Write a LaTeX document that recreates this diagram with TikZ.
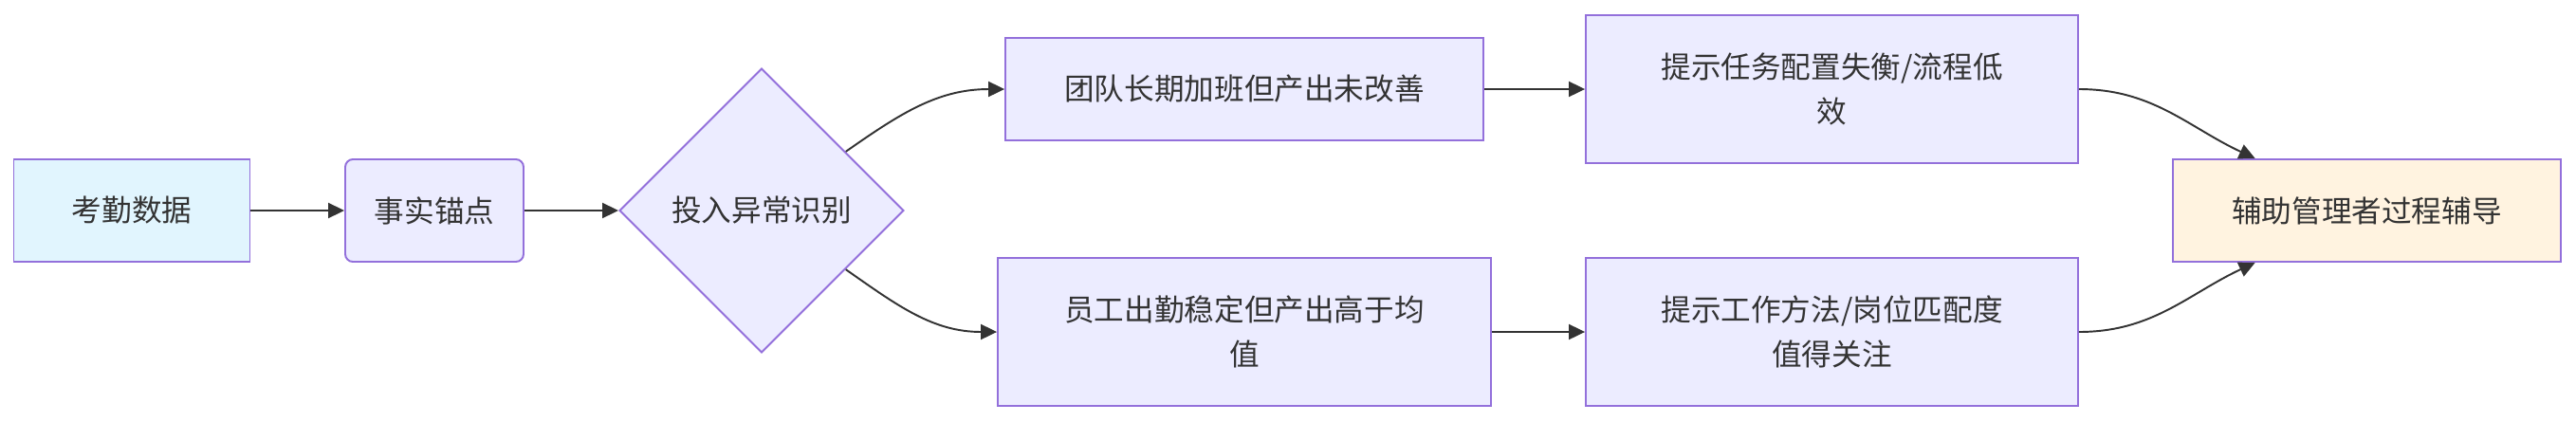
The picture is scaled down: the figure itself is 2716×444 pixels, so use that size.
\documentclass[tikz,border=0pt]{standalone}
\usepackage{fontspec}
\setmainfont{Noto Sans CJK SC}
\usetikzlibrary{shapes.geometric,arrows.meta}
\definecolor{boxfill}{HTML}{ECECFF}
\definecolor{boxline}{HTML}{9370DB}
\definecolor{srcfill}{HTML}{E1F5FE}
\definecolor{endfill}{HTML}{FFF3E0}
\definecolor{txt}{HTML}{333333}
\begin{document}
\begin{tikzpicture}[x=0.02cm, y=-0.02cm,
            box/.style={draw=boxline, fill=boxfill, line width=1.1pt, text=txt, inner sep=0pt,
                minimum height=2.16cm, align=center, font=\fontsize{18pt}{27pt}\selectfont},
            link/.style={-{Triangle[length=0.34cm,width=0.32cm]}, line width=1.1pt, draw=txt}]
            \useasboundingbox (0,0) rectangle (2716,444);

            \node[box, fill=srcfill, minimum width=4.98cm] (d) at (139,222) {考勤数据};
            \node[box, rounded corners=0.16cm, minimum width=3.76cm] (f) at (458,222) {事实锚点};
            \node[box, diamond, aspect=1, minimum width=6cm, minimum height=6cm] (q) at (803,222) {投入异常识别};

            \node[box, minimum width=10.08cm] (u1) at (1312,94) {团队长期加班但产出未改善};
            \node[box, minimum width=10.38cm, minimum height=3.12cm] (u2) at (1931.5,94) {提示任务配置失衡/流程低\\效};
            \node[box, minimum width=10.4cm, minimum height=3.12cm] (w1) at (1312,350) {员工出勤稳定但产出高于均\\值};
            \node[box, minimum width=10.38cm, minimum height=3.12cm] (w2) at (1931.5,350) {提示工作方法/岗位匹配度\\值得关注};

            \node[box, fill=endfill, minimum width=8.18cm] (h) at (2495.5,222) {辅助管理者过程辅导};

            \draw[link] (d) -- (f);
            \draw[link] (f) -- (q);
            \draw[link] (q) to[out=35, in=180] (u1);
            \draw[link] (q) to[out=-35, in=180] (w1);
            \draw[link] (u1) -- (u2);
            \draw[link] (w1) -- (w2);
            \draw[link] (u2) to[out=0, in=155] (h);
            \draw[link] (w2) to[out=0, in=205] (h);

        \end{tikzpicture}
\end{document}
